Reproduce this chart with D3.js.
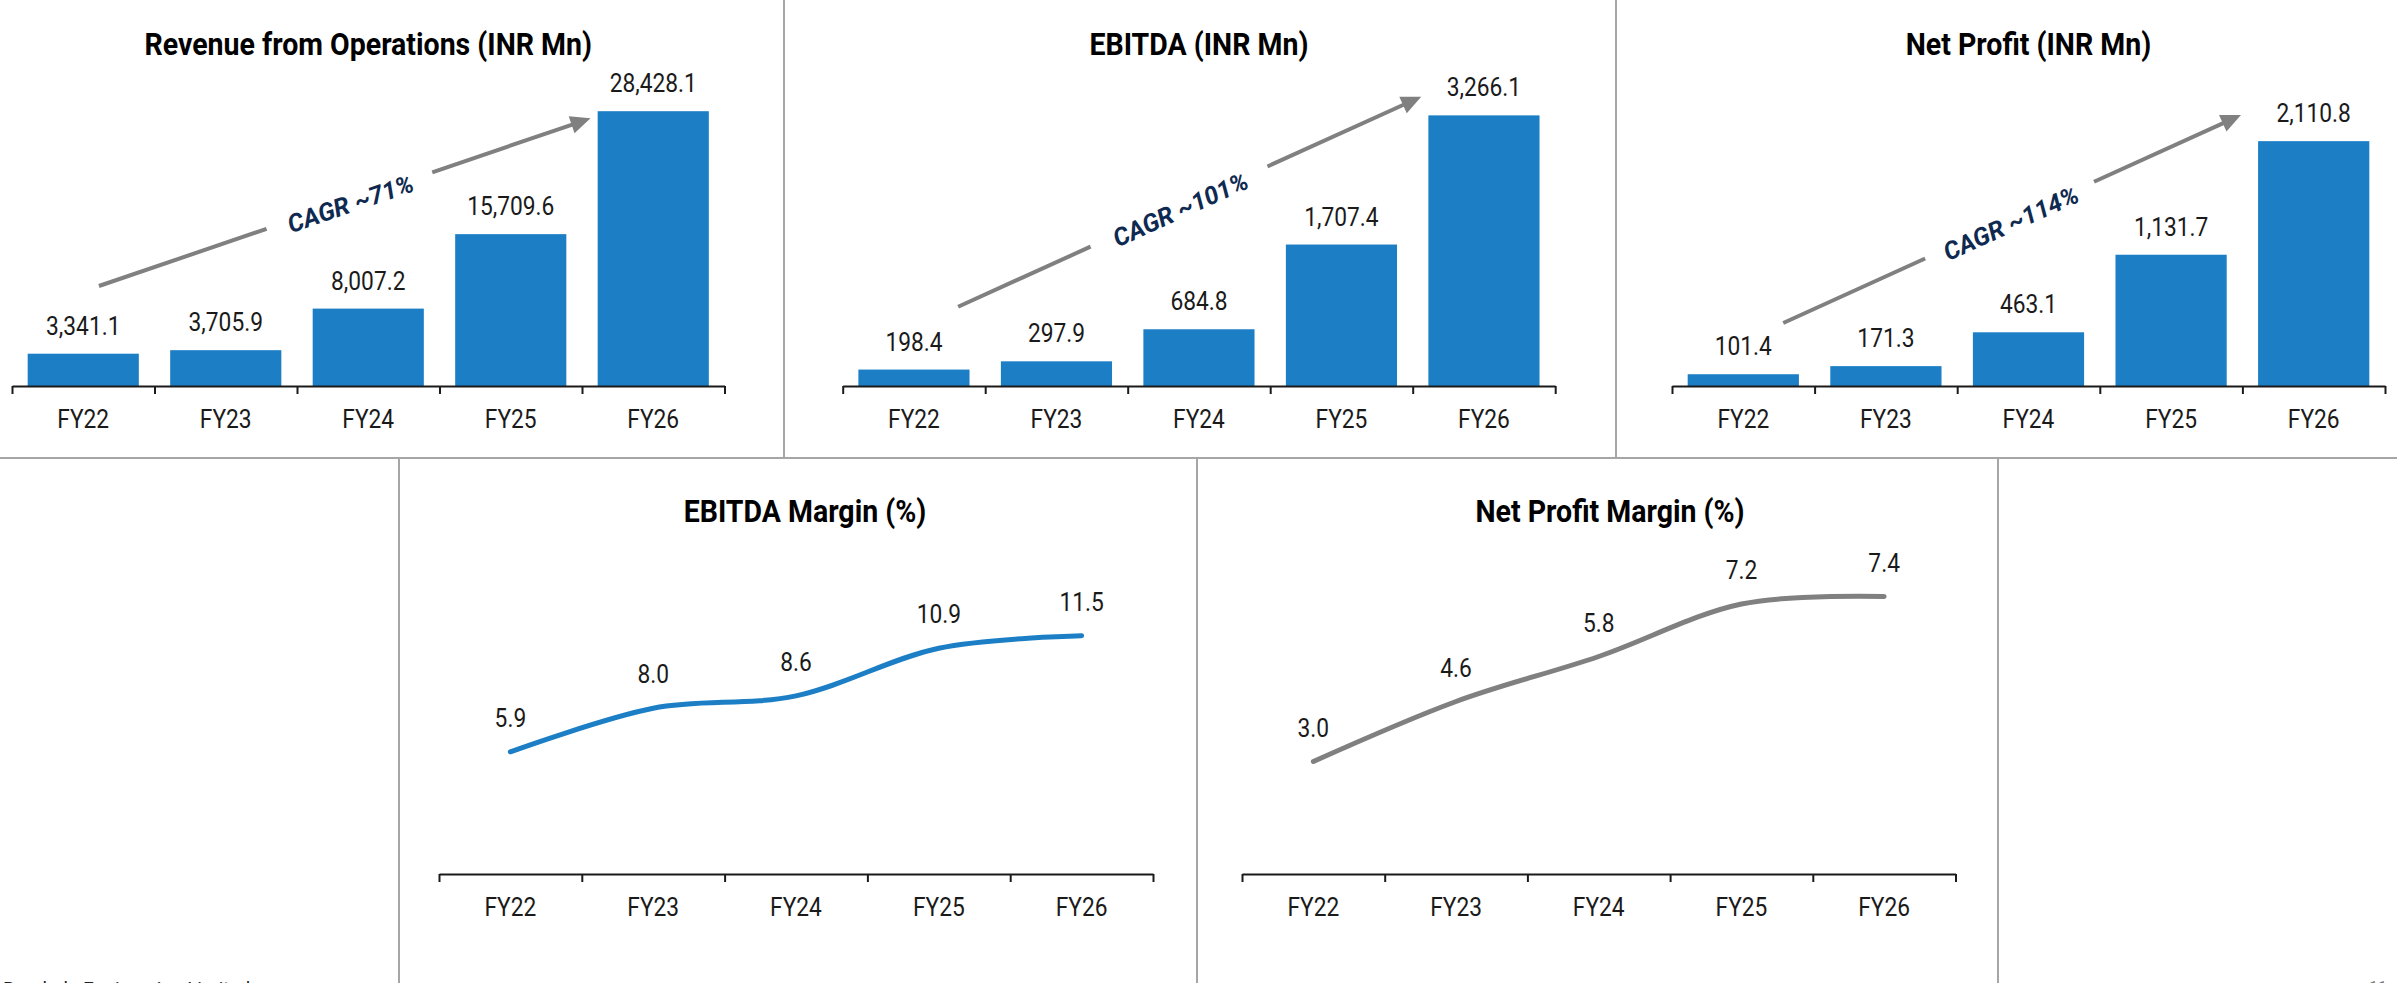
<!DOCTYPE html>
<html>
<head>
<meta charset="utf-8">
<script src="https://cdn.jsdelivr.net/npm/d3@7"></script>
<style>
  html, body { margin: 0; padding: 0; background: #fff; }
  svg { display: block; font-family: Roboto, "Noto Sans", sans-serif; }
</style>
</head>
<body>
<div id="vis"></div>
<script>
var categories = ["FY22", "FY23", "FY24", "FY25", "FY26"];
var revenue = [3341.1, 3705.9, 8007.2, 15709.6, 28428.1];
var ebitda = [198.4, 297.9, 684.8, 1707.4, 3266.1];
var netProfit = [101.4, 171.3, 463.1, 1131.7, 2110.8];
var ebitdaMargin = [5.9, 8.0, 8.6, 10.9, 11.5];
var netProfitMargin = [3.0, 4.6, 5.8, 7.2, 7.4];

var barTitles = ["Revenue from Operations (INR Mn)", "EBITDA (INR Mn)", "Net Profit (INR Mn)"];
var lineTitles = ["EBITDA Margin (%)", "Net Profit Margin (%)"];
var barAxisMax = [30000, 3500, 2500];
var lineAxisMax = [14, 8];

var cagrLabels = ["CAGR ~71%", "CAGR ~101%", "CAGR ~114%"];
// arrow ends: [position in category slots, value]
var cagrFrom = [[0.61, 10345], [0.81, 957], [0.78, 543]];
var cagrTo = [[4.06, 27690], [4.06, 3491], [3.99, 2336]];

var W = 2397, H = 983;
var blue = "#1c7fc6", grey = "#808080", navy = "#0f2a50", ink = "#1a1a1a";
var sx = 0.91; // narrow the Roboto glyphs a bit

var svg = d3.select("#vis").append("svg").attr("width", W).attr("height", H);

// panel frames
var frame = svg.append("g").attr("stroke", "#a6a6a6").attr("stroke-width", 2);
frame.append("line").attr("x1", 0).attr("x2", W).attr("y1", 458).attr("y2", 458);
[784, 1616].forEach(function(x) {
  frame.append("line").attr("x1", x).attr("x2", x).attr("y1", 0).attr("y2", 458);
});
[399, 1197, 1998].forEach(function(x) {
  frame.append("line").attr("x1", x).attr("x2", x).attr("y1", 458).attr("y2", H);
});

function squeeze(x, y, s) {
  return "translate(" + x + "," + y + ") scale(" + (s || sx) + ",1)";
}

function drawAxis(g, xr, y0, labelY) {
  var slot = d3.scaleLinear().domain([0, categories.length]).range(xr);
  g.append("g")
    .attr("transform", "translate(0," + y0 + ")")
    .call(d3.axisBottom(slot).tickValues(d3.range(0, categories.length + 1))
      .tickSizeInner(8).tickSizeOuter(0).tickFormat(""))
    .call(function(a) {
      a.selectAll("path, line").attr("stroke", ink).attr("stroke-width", 2);
    });
  var x = d3.scaleBand().domain(categories).range(xr);
  g.selectAll(".cat").data(categories).join("text")
    .attr("class", "cat")
    .attr("transform", function(d) { return squeeze(x(d) + x.bandwidth() / 2, labelY); })
    .attr("text-anchor", "middle")
    .style("font-size", "25px")
    .attr("fill", ink)
    .text(function(d) { return d; });
  return slot;
}

function drawBars(i, values, xr) {
  var g = svg.append("g");
  var x = d3.scaleBand().domain(categories).range(xr).paddingInner(0.22).paddingOuter(0.11);
  var y = d3.scaleLinear().domain([0, barAxisMax[i]]).range([386, 96]);
  var fmt = d3.format(",.1f");

  g.selectAll(".bar").data(values).join("rect")
    .attr("class", "bar")
    .attr("x", function(d, j) { return x(categories[j]); })
    .attr("y", function(d) { return y(d); })
    .attr("width", x.bandwidth())
    .attr("height", function(d) { return y(0) - y(d); })
    .attr("fill", blue);

  g.selectAll(".val").data(values).join("text")
    .attr("class", "val")
    .attr("transform", function(d, j) { return squeeze(x(categories[j]) + x.bandwidth() / 2, y(d) - 19); })
    .attr("text-anchor", "middle")
    .style("font-size", "25px")
    .attr("fill", ink)
    .text(fmt);

  var slot = drawAxis(g, xr, 386, 428);

  g.append("text")
    .attr("transform", squeeze((xr[0] + xr[1]) / 2, 55, 0.92))
    .attr("text-anchor", "middle")
    .style("font-size", "31px").style("font-weight", "bold")
    .attr("fill", "#000")
    .text(barTitles[i]);

  drawCagr(g, i, slot, y);
}

var cagrGap = [[0.341, 0.678], [0.286, 0.668], [0.31, 0.679]];

function drawCagr(g, i, slot, y) {
  var p0 = [slot(cagrFrom[i][0]), y(cagrFrom[i][1])];
  var p1 = [slot(cagrTo[i][0]), y(cagrTo[i][1])];
  var dx = p1[0] - p0[0], dy = p1[1] - p0[1];
  var len = Math.hypot(dx, dy), ux = dx / len, uy = dy / len;
  var nx = -uy, ny = ux;
  var at = function(t) { return [p0[0] + dx * t, p0[1] + dy * t]; };
  var a = at(cagrGap[i][0]), b = at(cagrGap[i][1]);
  var headLen = 20, headW = 9;
  var base = [p1[0] - ux * headLen, p1[1] - uy * headLen];
  var lineEnd = [p1[0] - ux * (headLen - 3), p1[1] - uy * (headLen - 3)];

  var seg = g.append("g").attr("stroke", grey).attr("stroke-width", 4).attr("fill", "none");
  seg.append("path").attr("d", d3.line()([p0, a]));
  seg.append("path").attr("d", d3.line()([b, lineEnd]));
  g.append("path")
    .attr("d", d3.line()([p1, [base[0] + nx * headW, base[1] + ny * headW], [base[0] - nx * headW, base[1] - ny * headW]]) + "Z")
    .attr("fill", grey);

  var mid = [(a[0] + b[0]) / 2 + nx * 3, (a[1] + b[1]) / 2 + ny * 3];
  var ang = Math.atan2(dy, dx) * 180 / Math.PI;
  g.append("text")
    .attr("transform", "translate(" + mid[0] + "," + mid[1] + ") rotate(" + ang + ")")
    .attr("text-anchor", "middle")
    .attr("dy", "0.36em")
    .style("font-size", "25px").style("font-weight", "bold").style("font-style", "italic")
    .attr("fill", navy)
    .text(cagrLabels[i]);
}

function drawLine(i, values, xr, yTop, titleX, color) {
  var g = svg.append("g");
  var x = d3.scalePoint().domain(categories).range(xr).padding(0.5);
  var y = d3.scaleLinear().domain([0, lineAxisMax[i]]).range([874, yTop]);

  g.append("path")
    .datum(values)
    .attr("d", d3.line()
      .x(function(d, j) { return x(categories[j]); })
      .y(function(d) { return y(d); })
      .curve(d3.curveCardinal.tension(0)))
    .attr("fill", "none")
    .attr("stroke", color)
    .attr("stroke-width", 5)
    .attr("stroke-linecap", "round");

  g.selectAll(".val").data(values).join("text")
    .attr("class", "val")
    .attr("transform", function(d, j) { return squeeze(x(categories[j]), y(d) - 25); })
    .attr("text-anchor", "middle")
    .style("font-size", "25px")
    .attr("fill", ink)
    .text(d3.format(".1f"));

  drawAxis(g, xr, 874, 916);

  g.append("text")
    .attr("transform", squeeze(titleX, 522, 0.92))
    .attr("text-anchor", "middle")
    .style("font-size", "31px").style("font-weight", "bold")
    .attr("fill", "#000")
    .text(lineTitles[i]);
}

drawBars(0, revenue, [12, 724.5]);
drawBars(1, ebitda, [842.7, 1555.2]);
drawBars(2, netProfit, [1672, 2385]);

drawLine(0, ebitdaMargin, [439, 1153], 584, 805, blue);
drawLine(1, netProfitMargin, [1242, 1955.5], 574, 1610, grey);

// footer, mostly below the page edge
svg.append("text")
  .attr("x", 3).attr("y", 995)
  .style("font-size", "19px")
  .attr("fill", "#222")
  .text("Bondada Engineering Limited");
svg.append("text")
  .attr("x", 2387).attr("y", 993)
  .attr("text-anchor", "end")
  .style("font-size", "16px")
  .attr("fill", "#777")
  .text("11");
</script>
</body>
</html>
